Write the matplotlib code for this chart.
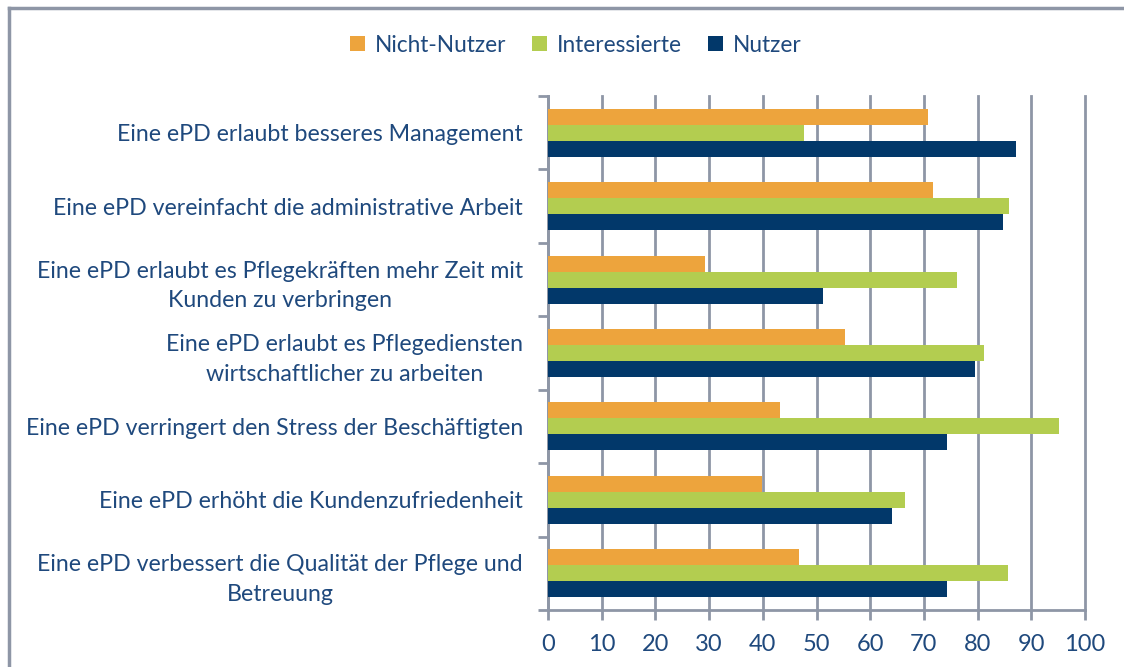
import matplotlib
matplotlib.use("Agg")
import matplotlib.pyplot as plt
import numpy as np
from matplotlib.lines import Line2D
from matplotlib.patches import Patch

categories = [
    "Eine ePD erlaubt besseres Management",
    "Eine ePD vereinfacht die administrative Arbeit",
    "Eine ePD erlaubt es Pflegekräften mehr Zeit mit\nKunden zu verbringen",
    "Eine ePD erlaubt es Pflegediensten\nwirtschaftlicher zu arbeiten",
    "Eine ePD verringert den Stress der Beschäftigten",
    "Eine ePD erhöht die Kundenzufriedenheit",
    "Eine ePD verbessert die Qualität der Pflege und\nBetreuung",
]
series_names = ["Nicht-Nutzer", "Interessierte", "Nutzer"]
nicht_nutzer = [70.7, 71.7, 29.3, 55.3, 43.2, 39.8, 46.8]
interessierte = [47.6, 85.8, 76.1, 81.1, 95.1, 66.4, 85.6]
nutzer = [87.1, 84.7, 51.3, 79.6, 74.3, 64.0, 74.3]
x_ticks = [0, 10, 20, 30, 40, 50, 60, 70, 80, 90, 100]

colors = ["#EDA43D", "#B3CD50", "#02386A"]
text_color = "#1F497D"
grid_color = "#8E96A6"

plt.rcParams['font.family'] = ['Lato', 'DejaVu Sans']

fig = plt.figure(figsize=(11.24, 6.67), dpi=100)
ax = fig.add_axes([548/1124, 1 - 610/667, (1085-548)/1124, (610-96)/667])

n = len(categories)
y = np.arange(n)
h = 0.218
for i, (vals, col) in enumerate(zip([nicht_nutzer, interessierte, nutzer], colors)):
    ax.barh(y + (i - 1) * h, vals, height=h, color=col, label=series_names[i], zorder=3)

ax.set_ylim(n - 0.5, -0.5)
ax.set_xlim(0, 100)
ax.set_xticks(x_ticks)
ax.set_xticklabels([str(t) for t in x_ticks])
ax.set_yticks(y)
ax.set_yticklabels(categories, multialignment='center', linespacing=1.5)
ax.set_yticks(np.arange(-0.5, n, 1), minor=True)

ax.tick_params(axis='y', which='major', length=0, pad=18, labelsize=16.7, labelcolor=text_color)
ax.tick_params(axis='y', which='minor', length=7, width=2, color=grid_color, direction='out')
ax.tick_params(axis='x', which='major', length=7, width=2, color=grid_color, direction='out',
               labelsize=17, labelcolor=text_color, pad=10)

ax.grid(axis='x', color=grid_color, linewidth=2, zorder=0)
for gl in ax.get_xgridlines():
    gl.set_clip_on(False)
for s in ['top', 'right']:
    ax.spines[s].set_visible(False)
for s in ['left', 'bottom']:
    ax.spines[s].set_color(grid_color)
    ax.spines[s].set_linewidth(2)

handles = [Patch(facecolor=c, edgecolor='none') for c in colors]
leg = fig.legend(handles, series_names, loc='center', bbox_to_anchor=(576/1124, 1 - 45/667),
                 ncol=3, frameon=False, fontsize=16.3, handlelength=0.65, handleheight=0.65,
                 handletextpad=0.45, columnspacing=1.15)
for t in leg.get_texts():
    t.set_color(text_color)

# outer border
fig.add_artist(Line2D([9/1124, 1], [1 - 8/667, 1 - 8/667], transform=fig.transFigure,
                      color=grid_color, linewidth=2.5))
fig.add_artist(Line2D([9/1124, 9/1124], [0, 1 - 8/667], transform=fig.transFigure,
                      color=grid_color, linewidth=2.5))

fig.savefig("out.png", dpi=100, facecolor="white")
